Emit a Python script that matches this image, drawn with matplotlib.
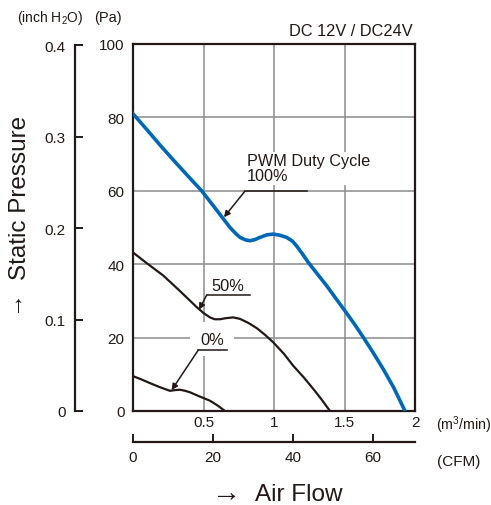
import matplotlib
matplotlib.use("Agg")
import matplotlib.pyplot as plt

plt.rcParams["font.family"] = ["Liberation Sans", "DejaVu Sans"]
plt.rcParams["mathtext.default"] = "regular"

# 数据 (m3/min, Pa)
flow_100 = [0, 0.1, 0.2, 0.3, 0.4, 0.487, 0.57, 0.63, 0.688, 0.73, 0.759, 0.80, 0.83, 0.865,
            0.90, 0.95, 0.995, 1.04, 1.09, 1.13, 1.16, 1.20, 1.243, 1.30, 1.374, 1.44, 1.503,
            1.57, 1.633, 1.70, 1.775, 1.85, 1.929]
pres_100 = [81, 76.6, 72.1, 67.8, 63.6, 60, 55.9, 52.9, 50, 48.3, 47.3, 46.6, 46.4, 46.7,
            47.3, 48.0, 48.2, 47.9, 47.3, 46.3, 45, 42.9, 40.5, 37.7, 34.1, 30.6, 27.3,
            23.7, 20.1, 16.1, 11.4, 6.3, 0]
flow_50 = [0, 0.1, 0.215, 0.33, 0.452, 0.50, 0.546, 0.58, 0.617, 0.66, 0.711, 0.759, 0.818,
           0.877, 0.935, 0.995, 1.07, 1.137, 1.21, 1.279, 1.34, 1.397]
pres_50 = [43.2, 40.2, 36.9, 32.8, 28.3, 26.7, 25.5, 25.0, 25.0, 25.3, 25.5, 25.1, 24.0,
           22.6, 20.8, 18.7, 15.6, 12.3, 9.2, 6.0, 3.0, 0]
flow_0 = [0, 0.06, 0.12, 0.19, 0.262, 0.30, 0.333, 0.37, 0.404, 0.47, 0.546, 0.60, 0.652]
pres_0 = [9.5, 8.6, 7.6, 6.5, 5.5, 5.7, 5.8, 5.5, 5.1, 4.0, 2.8, 1.5, 0]

pa_ticks = [0, 20, 40, 60, 80, 100]
m3_ticks = [0.5, 1, 1.5, 2]
inch_ticks = [0, 0.1, 0.2, 0.3, 0.4]
cfm_ticks = [0, 20, 40, 60]

W, H = 491, 506
dark = "#231815"
blue = "#0068b7"

fig = plt.figure(figsize=(W / 100, H / 100), dpi=100)
ax = fig.add_axes([133 / W, 1 - 412 / H, 282 / W, 367 / H])

ax.plot(flow_100, pres_100, color=blue, lw=2.6, solid_joinstyle="round", zorder=4)
ax.plot(flow_50, pres_50, color=dark, lw=1.6, solid_joinstyle="round", zorder=4)
ax.plot(flow_0, pres_0, color=dark, lw=1.6, solid_joinstyle="round", zorder=4)

ax.set_xlim(0, 2)
ax.set_ylim(0, 100)
ax.set_xticks(m3_ticks)
ax.set_xticklabels(["0.5", "1", "1.5", "2"])
ax.set_yticks(pa_ticks)
ax.tick_params(length=0, labelsize=11, colors=dark)
ax.tick_params(axis="y", pad=6)
ax.tick_params(axis="x", pad=3)
ax.grid(True, color="#8c8c8c", lw=1.1)
ax.set_axisbelow(True)
for s in ax.spines.values():
    s.set_color(dark)
    s.set_linewidth(1.6)

# inch H2O 轴
sec_y = ax.secondary_yaxis(-0.204, functions=(lambda p: p / 249.0, lambda i: i * 249.0))
sec_y.set_yticks(inch_ticks)
sec_y.set_yticklabels(["0", "0.1", "0.2", "0.3", "0.4"])
sec_y.tick_params(direction="in", length=5.5, width=1.4, colors=dark, labelsize=11, pad=7)
sec_y.spines["left"].set_bounds(0, 0.4)
sec_y.spines["left"].set_linewidth(1.6)
sec_y.spines["left"].set_color(dark)

# CFM 轴
sec_x = ax.secondary_xaxis(-0.0845, functions=(lambda m: m * 35.315, lambda c: c / 35.315))
sec_x.set_xticks(cfm_ticks)
sec_x.tick_params(direction="in", length=6, width=1.4, colors=dark, labelsize=11, pad=6)
sec_x.spines["bottom"].set_linewidth(1.6)
sec_x.spines["bottom"].set_color(dark)

# 标注
arrow = dict(arrowstyle="-|>", color=dark, lw=1.1, mutation_scale=9, shrinkA=0, shrinkB=0)
ax.annotate("", xy=(0.645, 52.8), xytext=(0.794, 59.9), arrowprops=arrow, zorder=5)
ax.plot([0.794, 1.232], [59.9, 59.9], color=dark, lw=1.1, zorder=5)
ax.text(0.806, 66.1, "PWM Duty Cycle\n100%", fontsize=11.7, color=dark, ha="left", va="center",
        linespacing=1.0, bbox=dict(facecolor="white", edgecolor="none", pad=1), zorder=3)

ax.annotate("", xy=(0.468, 27.6), xytext=(0.523, 31.6), arrowprops=arrow, zorder=5)
ax.plot([0.523, 0.83], [31.6, 31.6], color=dark, lw=1.1, zorder=5)
ax.text(0.67, 34.3, "50%", fontsize=11.8, color=dark, ha="center", va="center",
        bbox=dict(facecolor="white", edgecolor="none", pad=1), zorder=3)

ax.annotate("", xy=(0.274, 5.7), xytext=(0.463, 16.6), arrowprops=arrow, zorder=5)
ax.plot([0.463, 0.665], [16.6, 16.6], color=dark, lw=1.1, zorder=5)
ax.text(0.56, 19.6, "0%", fontsize=11.8, color=dark, ha="center", va="center",
        bbox=dict(facecolor="white", edgecolor="none", boxstyle="square,pad=0.6"), zorder=3)

# 轴标题
def fx(x):
    return x / W

def fy(y):
    return 1 - y / H

fig.text(fx(50), fy(18), "(inch H$_2$O)", fontsize=10, color=dark, ha="center", va="center")
fig.text(fx(108), fy(18), "(Pa)", fontsize=10.5, color=dark, ha="center", va="center")
fig.text(fx(413), fy(31.5), "DC 12V / DC24V", fontsize=11.8, color=dark, ha="right", va="center")
fig.text(fx(436), fy(425), "(m$^3$/min)", fontsize=10.3, color=dark, ha="left", va="center")
fig.text(fx(437), fy(462), "(CFM)", fontsize=11, color=dark, ha="left", va="center")

fig.text(fx(227), fy(493), "→", fontsize=21, color=dark, ha="center", va="center")
fig.text(fx(255), fy(495), "Air Flow", fontsize=17.5, color=dark, ha="left", va="center")
fig.text(fx(0.5), fy(301.5), "→", fontsize=17, color=dark, ha="left", va="center", rotation=90)
fig.text(fx(20), fy(198), "Static Pressure", fontsize=17.5, color=dark, ha="center", va="center",
         rotation=90)

fig.savefig("out.png", dpi=100)
